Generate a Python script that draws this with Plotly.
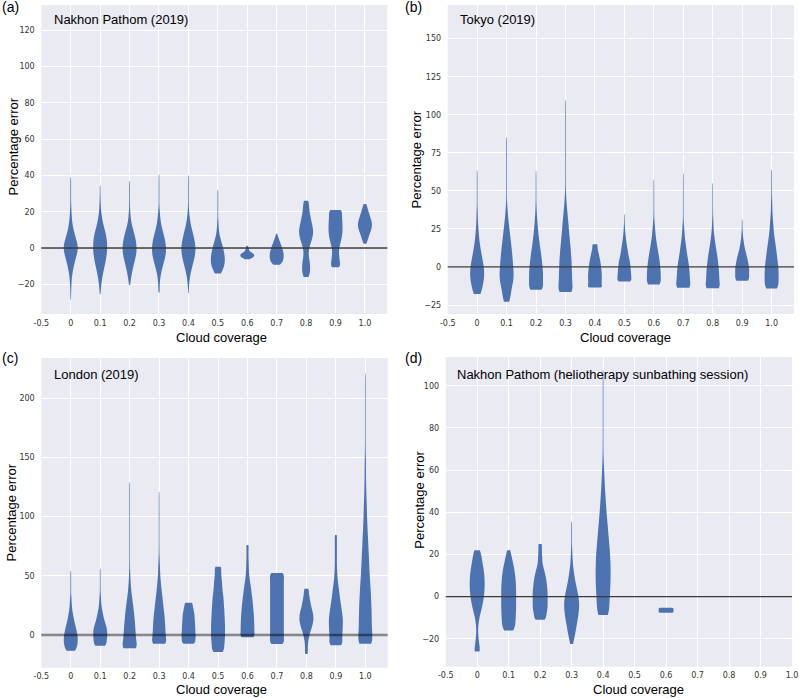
import numpy as np
import plotly.graph_objects as go

# ---------------- data ----------------
CATEGORIES = ['0', '0.1', '0.2', '0.3', '0.4', '0.5', '0.6', '0.7', '0.8', '0.9', '1.0']
X_TICK_LABELS = ['-0.5'] + CATEGORIES
X_POSITIONS = list(range(-1, 11))

# Each violin: binned percentage-error distribution (bin start, bin width, counts per bin)
# Panel (a) Nakhon Pathom (2019)
A_LO = [-28.5, -25.5, -20.5, -24.5, -25, -14, -6.2, -9.2, -16, -10.6, 2.3]
A_STEP = [2.5, 2.5, 2.5, 2.5, 2.5, 2, 0.5, 1, 2, 1.5, 1]
A_COUNTS = [
    [1, 1, 1, 2, 2, 3, 5, 7, 10, 13, 17, 20, 20, 16, 12, 9, 6, 4, 3, 2, 2, 1, 1, 1, 1, 1, 1, 1],
    [1, 2, 3, 4, 7, 9, 12, 15, 17, 19, 20, 20, 19, 17, 14, 10, 7, 5, 3, 2, 2, 1, 1, 1, 1],
    [1, 3, 5, 7, 10, 13, 16, 19, 20, 19, 17, 14, 11, 7, 4, 3, 2, 1, 1, 1, 1, 1, 1, 1],
    [2, 2, 2, 3, 5, 8, 11, 15, 18, 20, 20, 18, 16, 12, 9, 6, 4, 3, 2, 1, 1, 1, 1, 1, 1, 1, 1],
    [1, 1, 2, 3, 5, 8, 11, 15, 18, 20, 21, 19, 17, 14, 10, 7, 5, 3, 2, 1, 1, 1, 1, 1, 1, 1, 1],
    [10, 14, 18, 20, 20, 19, 17, 15, 12, 9, 6, 4, 3, 2, 2, 1, 1, 1, 1, 1, 1, 1, 1, 1],
    [6, 12, 17, 20, 21, 21, 19, 15, 10, 7, 5, 5, 5, 4, 3, 2],
    [12, 16, 19, 20, 21, 21, 21, 20, 18, 17, 15, 13, 11, 9, 7, 5, 3, 2],
    [9, 11, 12, 12, 11, 9, 7, 7, 9, 12, 16, 19, 21, 21, 19, 16, 14, 12, 10, 9, 8, 9],
    [16, 14, 13, 12, 11, 10, 10, 11, 13, 15, 17, 19, 20, 21, 21, 21, 21, 20, 20, 19, 19, 24],
    [5, 6, 8, 10, 11, 13, 15, 17, 19, 20, 21, 21, 20, 19, 17, 15, 14, 12, 10, 9, 7, 6, 4],
]

# Panel (b) Tokyo (2019)
B_LO = [-17.7, -22.8, -15, -16.5, -13.5, -9.6, -11.6, -13.6, -14, -9, -14.2]
B_STEP = [3, 3, 3, 3.5, 1.5, 2, 3, 3, 3, 2, 3]
B_COUNTS = [
    [13, 14, 17, 20, 21, 21, 20, 17, 15, 12, 10, 8, 6, 5, 4, 3, 2, 2, 2, 1, 1, 1, 1, 1, 1, 1, 1, 1],
    [10, 11, 13, 15, 18, 21, 21, 20, 19, 18, 17, 16, 14, 13, 11, 10, 8, 7, 5, 4, 3, 2, 1,
     1, 1, 1, 1, 1, 1, 1, 1, 1, 1, 1, 1, 1, 1],
    [27, 20, 21, 21, 21, 20, 18, 17, 15, 13, 11, 9, 8, 6, 5, 4, 3, 2, 2, 1, 1, 1, 1, 1, 1, 1, 1],
    [29, 20, 20, 20, 19, 19, 18, 17, 16, 14, 13, 11, 10, 9, 7, 6, 4, 3, 2, 1,
     1, 1, 1, 1, 1, 1, 1, 1, 1, 1, 1, 1, 1, 1, 1, 1, 1],
    [32, 19, 20, 21, 21, 21, 21, 20, 20, 19, 18, 17, 16, 14, 13, 11, 10, 8, 7, 11],
    [30, 21, 21, 21, 20, 19, 18, 17, 14, 12, 11, 9, 8, 6, 5, 4, 3, 2, 2, 1, 1, 1, 1],
    [27, 21, 21, 21, 20, 18, 16, 14, 11, 9, 7, 5, 4, 3, 2, 1, 1, 1, 1, 1, 1, 1, 1, 1],
    [33, 21, 21, 21, 20, 18, 16, 13, 11, 9, 7, 5, 4, 3, 2, 1, 1, 1, 1, 1, 1, 1, 1, 1, 1, 1],
    [33, 21, 21, 21, 20, 19, 17, 15, 13, 10, 8, 6, 4, 3, 2, 2, 1, 1, 1, 1, 1, 1, 1, 1],
    [27, 19, 21, 21, 21, 20, 18, 16, 14, 12, 9, 7, 6, 4, 3, 2, 2, 1, 1, 1, 1],
    [24, 20, 21, 21, 21, 20, 18, 16, 15, 13, 11, 9, 7, 6, 5, 4, 3, 2, 2, 2, 1, 1, 1, 1, 1, 1, 1],
]

# Panel (c) London (2019)
C_LO = [-13.2, -9, -11.2, -7.3, -7.3, -14.3, -2, -7.6, -16, -8.7, -7.3]
C_STEP = [2.5, 2.5, 4, 4, 1.5, 3, 3, 3, 2.5, 3, 6]
C_COUNTS = [
    [16, 16, 19, 20, 20, 19, 18, 16, 14, 12, 10, 8, 7, 5, 4, 3, 3, 2, 2, 1, 1, 1, 1, 1, 1, 1, 1, 1],
    [21, 17, 19, 20, 20, 20, 19, 16, 13, 11, 9, 7, 6, 4, 3, 3, 2, 2, 1, 1, 1, 1, 1, 1, 1, 1, 1],
    [33, 20, 20, 19, 18, 17, 16, 14, 13, 11, 9, 7, 5, 4, 3, 2, 2, 1,
     1, 1, 1, 1, 1, 1, 1, 1, 1, 1, 1, 1, 1, 1, 1, 1, 1, 1],
    [33, 20, 20, 20, 19, 18, 17, 15, 13, 12, 10, 8, 7, 5, 4, 3, 3, 2, 2, 1,
     1, 1, 1, 1, 1, 1, 1, 1, 1, 1, 1, 1, 1],
    [23, 20, 20, 21, 21, 21, 21, 20, 20, 20, 20, 19, 19, 19, 18, 18, 18, 17, 16, 15, 14, 13, 11, 15],
    [20, 17, 18, 19, 20, 20, 20, 20, 20, 19, 19, 18, 18, 17, 16, 16, 15, 13, 12, 12, 11, 10, 9, 8, 13],
    [30, 20, 21, 21, 21, 20, 20, 19, 18, 17, 16, 15, 13, 12, 11, 9, 7, 6, 5, 4, 4, 4, 3, 3, 3, 3, 5],
    [26, 20, 20, 20, 20, 20, 20, 20, 20, 20, 20, 20, 20, 20, 20, 20, 20, 20, 20, 20, 26],
    [5, 4, 4, 4, 5, 6, 8, 10, 13, 16, 18, 20, 21, 20, 19, 16, 14, 12, 11, 9, 8, 6, 9],
    [25, 18, 19, 19, 20, 20, 21, 21, 20, 19, 17, 16, 14, 13, 11, 10, 9, 7, 6, 5, 4, 4,
     3, 3, 3, 3, 3, 3, 3, 3, 3, 4],
    [30, 20, 20, 20, 19, 19, 18, 17, 16, 14, 13, 12, 11, 10, 9, 8, 7, 6, 5, 5, 4, 3, 3, 2, 2, 2, 2,
     1, 1, 1, 1, 1, 1, 1, 1, 1, 1, 1, 1],
]

# Panel (d) Nakhon Pathom (heliotherapy sunbathing session); no data for 0.5 and 0.7-1.0
D_LO = [-26, -16, -11, -22.4, -8.7, None, -7.6, None, None, None, None]
D_STEP = [2, 2, 1.5, 2, 4, None, 0.4, None, None, None, None]
D_COUNTS = [
    [11, 7, 5, 4, 3, 2, 3, 4, 6, 9, 12, 15, 17, 19, 20, 21, 21, 21, 20, 19, 17, 15, 13, 11, 10],
    [18, 18, 19, 20, 20, 21, 21, 21, 21, 21, 21, 20, 20, 18, 17, 15, 12, 10, 7, 5],
    [19, 16, 18, 20, 21, 21, 21, 21, 21, 21, 20, 19, 18, 17, 15, 13, 11, 8, 6, 6, 6, 5, 5, 4, 7],
    [5, 6, 9, 11, 13, 15, 17, 19, 20, 21, 21, 19, 17, 15, 12, 10, 8, 6, 5, 3, 3, 2, 2,
     1, 1, 1, 1, 1, 1, 1],
    [20, 17, 18, 20, 21, 21, 21, 20, 18, 16, 14, 12, 10, 8, 7, 5, 4, 3, 2, 1, 1,
     1, 1, 1, 1, 1, 1, 1, 1, 1],
    None,
    [26, 20, 20, 20, 20, 20, 26],
    None, None, None, None,
]

PANEL_TITLES = ['Nakhon Pathom (2019)', 'Tokyo (2019)', 'London (2019)',
                'Nakhon Pathom (heliotherapy sunbathing session)']
PANEL_LETTERS = ['(a)', '(b)', '(c)', '(d)']
X_TITLE = 'Cloud coverage'
Y_TITLE = 'Percentage error'

# ---------------- style / layout ----------------
W, H = 799, 698
VIOLIN_COLOR = '#4C72B0'
BG = '#EAEAF2'
VIOLIN_WIDTH = 0.475

def px_x(x):
    return x / W

def px_y(y):
    return 1 - y / H

panels = [
    dict(lo=A_LO, step=A_STEP, counts=A_COUNTS, xdom=(41.3, 387.3), ydom=(5, 314),
         xr=[-1, 10.76], yr=[-36.4, 134], dtick=20,
         zl=dict(color='#3a3a3a', width=1.3),
         letter=(0, 7), title=(52, 19), ytitle=(12.5, 147), xtitle=(221, 338)),
    dict(lo=B_LO, step=B_STEP, counts=B_COUNTS, xdom=(447.7, 794), ydom=(5, 314),
         xr=[-1, 10.76], yr=[-30.9, 172.1], dtick=25,
         zl=dict(color='#3a3a3a', width=1.3),
         letter=(403, 7), title=(458, 19), ytitle=(415.5, 160), xtitle=(625, 337.5)),
    dict(lo=C_LO, step=C_STEP, counts=C_COUNTS, xdom=(41.3, 387.7), ydom=(358, 667.7),
         xr=[-1, 10.76], yr=[-27.6, 233.8], dtick=50,
         zl=dict(color='rgba(0,0,0,0.45)', width=2.5),
         letter=(0, 357.5), title=(52, 374.5), ytitle=(10.5, 513), xtitle=(221, 689.5)),
    dict(lo=D_LO, step=D_STEP, counts=D_COUNTS, xdom=(445.7, 792), ydom=(357, 666.7),
         xr=[-1, 10], yr=[-33.2, 113.6], dtick=20,
         zl=dict(color='#3a3a3a', width=1.3),
         letter=(403, 358), title=(455, 374.5), ytitle=(418.7, 500), xtitle=(638, 689.5)),
]

fig = go.Figure()
shapes, annotations = [], []
tick_font = dict(family='DejaVu Sans', size=8, color='#333333')
text_family = 'Liberation Sans, Arial, sans-serif'

for i, p in enumerate(panels):
    sfx = '' if i == 0 else str(i + 1)
    xa, ya = 'x' + sfx, 'y' + sfx
    for k, cat in enumerate(CATEGORIES):
        counts = p['counts'][k]
        if counts is None:
            continue
        levels = p['lo'][k] + p['step'][k] * np.arange(len(counts))
        samples = np.repeat(levels, counts)
        fig.add_trace(go.Violin(
            x0=k, y=samples, xaxis=xa, yaxis=ya, name=cat,
            width=VIOLIN_WIDTH, spanmode='hard', bandwidth=p['step'][k],
            scalemode='width', points=False, fillcolor=VIOLIN_COLOR,
            line=dict(width=0, color=VIOLIN_COLOR), opacity=1,
            box_visible=False, meanline_visible=False,
            showlegend=False, hoverinfo='skip'))
    fig.layout['xaxis' + sfx] = dict(
        domain=[px_x(p['xdom'][0]), px_x(p['xdom'][1])], anchor=ya, range=p['xr'],
        tickmode='array', tickvals=X_POSITIONS, ticktext=X_TICK_LABELS,
        showgrid=True, gridcolor='white', gridwidth=1, zeroline=False, showline=False,
        ticks='outside', ticklen=1, tickcolor='rgba(0,0,0,0)', tickfont=tick_font,
        automargin=False, fixedrange=True)
    fig.layout['yaxis' + sfx] = dict(
        domain=[px_y(p['ydom'][1]), px_y(p['ydom'][0])], anchor=xa, range=p['yr'],
        tick0=0, dtick=p['dtick'],
        showgrid=True, gridcolor='white', gridwidth=1, zeroline=False, showline=False,
        ticks='outside', ticklen=4, tickcolor='rgba(0,0,0,0)', tickfont=tick_font,
        automargin=False, fixedrange=True)
    shapes.append(dict(type='line', xref=xa + ' domain', yref=ya, x0=0, x1=1, y0=0, y1=0,
                       layer='above', line=p['zl']))
    common = dict(xref='paper', yref='paper', showarrow=False, yanchor='middle')
    annotations += [
        dict(text=PANEL_LETTERS[i], x=px_x(p['letter'][0]), y=px_y(p['letter'][1]),
             xanchor='left', font=dict(family=text_family, size=14, color='black'), **common),
        dict(text=PANEL_TITLES[i], x=px_x(p['title'][0]), y=px_y(p['title'][1]),
             xanchor='left', font=dict(family=text_family, size=13, color='black'), **common),
        dict(text=Y_TITLE, x=px_x(p['ytitle'][0]), y=px_y(p['ytitle'][1]), textangle=-90,
             xanchor='center', font=dict(family=text_family, size=13, color='black'), **common),
        dict(text=X_TITLE, x=px_x(p['xtitle'][0]), y=px_y(p['xtitle'][1]),
             xanchor='center', font=dict(family=text_family, size=13, color='black'), **common),
    ]

fig.update_layout(
    width=W, height=H, autosize=False,
    margin=dict(l=0, r=0, t=0, b=0),
    paper_bgcolor='white', plot_bgcolor=BG,
    violinmode='overlay', violingap=0, violingroupgap=0,
    shapes=shapes, annotations=annotations, showlegend=False,
)

fig.write_html('out.html', config={'displayModeBar': False},
               post_script="document.body.style.margin='0px';document.body.style.overflow='hidden';")
